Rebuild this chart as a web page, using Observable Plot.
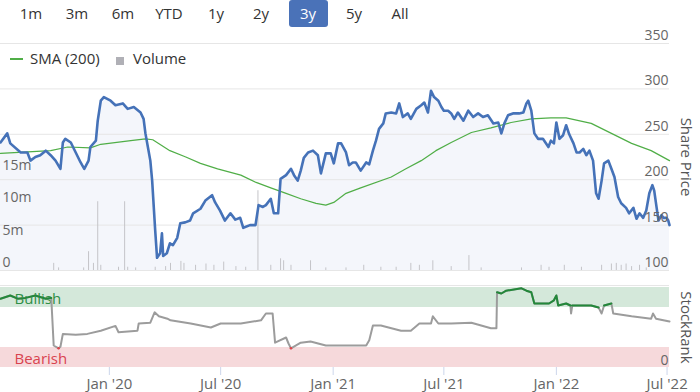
<!DOCTYPE html>
<html><head><meta charset="utf-8">
<script src="https://cdn.jsdelivr.net/npm/d3@7"></script>
<script src="https://cdn.jsdelivr.net/npm/@observablehq/plot@0.6"></script>
<style>
body{margin:0;background:#fff;font-family:"Open Sans",sans-serif;}
#wrap{position:relative;width:700px;height:392px;overflow:hidden;}
#wrap > svg{position:absolute;left:0;top:0;}
.btn{position:absolute;top:0;height:27px;line-height:27px;font-size:15px;color:#333;text-align:center;}
.btn.sel{background:#4a72b8;color:#fff;border-radius:3px;}
.leg{position:absolute;font-size:15px;color:#333;line-height:20px;top:48px;}
</style></head>
<body><div id="wrap"></div>
<script>
// ---------- data ----------
const rangeButtons = ["1m","3m","6m","YTD","1y","2y","3y","5y","All"];
const selectedRange = "3y";
const legendItems = ["SMA (200)", "Volume"];

const priceDates = ["2019-07-07","2019-07-18","2019-07-23","2019-08-09","2019-08-20","2019-08-25","2019-09-02","2019-09-10","2019-09-19","2019-09-27","2019-10-05","2019-10-13","2019-10-17","2019-10-21","2019-10-30","2019-11-07","2019-11-15","2019-11-21","2019-11-28","2019-12-01","2019-12-10","2019-12-13","2019-12-18","2019-12-23","2020-01-03","2020-01-11","2020-01-23","2020-01-31","2020-02-10","2020-02-21","2020-02-26","2020-02-29","2020-03-04","2020-03-08","2020-03-11","2020-03-16","2020-03-19","2020-03-24","2020-03-27","2020-03-29","2020-04-04","2020-04-09","2020-04-14","2020-04-21","2020-04-26","2020-05-04","2020-05-12","2020-05-17","2020-05-29","2020-06-06","2020-06-17","2020-06-22","2020-06-30","2020-07-08","2020-07-17","2020-07-25","2020-08-02","2020-08-07","2020-08-18","2020-08-27","2020-09-01","2020-09-08","2020-09-13","2020-09-21","2020-09-26","2020-10-03","2020-10-07","2020-10-16","2020-10-24","2020-10-29","2020-11-04","2020-11-09","2020-11-14","2020-11-21","2020-11-29","2020-12-07","2020-12-12","2020-12-20","2020-12-28","2021-01-02","2021-01-09","2021-01-14","2021-01-22","2021-01-27","2021-02-02","2021-02-07","2021-02-15","2021-02-24","2021-03-01","2021-03-07","2021-03-12","2021-03-17","2021-03-24","2021-03-28","2021-04-06","2021-04-14","2021-04-19","2021-04-25","2021-05-03","2021-05-08","2021-05-17","2021-05-25","2021-05-30","2021-06-05","2021-06-10","2021-06-15","2021-06-22","2021-06-27","2021-07-01","2021-07-08","2021-07-13","2021-07-18","2021-07-24","2021-08-02","2021-08-10","2021-08-18","2021-08-26","2021-09-03","2021-09-11","2021-09-20","2021-09-28","2021-10-03","2021-10-08","2021-10-14","2021-10-22","2021-11-01","2021-11-08","2021-11-13","2021-11-16","2021-11-21","2021-11-26","2021-12-02","2021-12-10","2021-12-19","2021-12-23","2021-12-28","2022-01-01","2022-01-06","2022-01-12","2022-01-17","2022-01-22","2022-01-29","2022-02-03","2022-02-08","2022-02-14","2022-02-19","2022-02-24","2022-03-02","2022-03-07","2022-03-11","2022-03-16","2022-03-20","2022-03-27","2022-04-01","2022-04-06","2022-04-12","2022-04-17","2022-04-25","2022-04-30","2022-05-07","2022-05-12","2022-05-17","2022-05-23","2022-05-28","2022-06-02","2022-06-07","2022-06-10","2022-06-14","2022-06-17","2022-06-22","2022-06-25","2022-06-30","2022-07-03","2022-07-05"];
const priceValues = [241,251,240,230,230,221,225,227,232,227,221,212,241,245,241,230,219,212,221,236,243,265,287,291,287,282,284,278,280,274,267,251,236,221,199,144,114,119,141,116,119,130,128,136,152,153,155,163,168,177,183,175,166,155,163,156,158,147,150,150,172,170,172,179,163,163,201,205,212,205,199,210,224,230,232,227,207,229,229,218,240,240,230,216,219,219,210,219,217,232,243,256,262,273,274,273,284,269,273,267,278,282,285,274,298,291,287,280,276,276,273,267,274,265,276,269,273,269,271,262,263,251,262,271,273,273,274,284,287,276,251,245,245,236,243,240,263,245,249,260,250,240,230,230,234,227,232,221,185,179,199,218,221,212,203,181,174,169,163,169,157,163,158,166,185,194,188,169,155,161,158,158,155,150];

const smaDates = ["2019-07-07","2019-09-27","2019-10-25","2019-12-01","2019-12-18","2020-02-05","2020-02-29","2020-03-12","2020-04-09","2020-05-05","2020-05-29","2020-06-26","2020-08-03","2020-08-28","2020-09-21","2020-10-16","2020-11-09","2020-12-04","2020-12-20","2021-01-02","2021-01-22","2021-02-15","2021-04-06","2021-04-30","2021-05-25","2021-06-18","2021-07-13","2021-08-15","2021-09-16","2021-10-19","2021-11-21","2021-12-23","2022-01-17","2022-02-27","2022-04-01","2022-05-04","2022-06-05","2022-07-05"];
const smaValues = [229,232,236,235,239,243,245,244,232,225,218,212,205,197,191,185,179,174,172,175,185,191,203,212,221,232,241,252,257,263,267,268,268,262,251,240,232,221];

const volumeDates = ["2019-10-02","2019-10-10","2019-11-20","2019-11-28","2019-12-06","2019-12-13","2019-12-18","2020-01-16","2020-01-26","2020-01-31","2020-02-13","2020-03-16","2020-04-02","2020-04-10","2020-04-27","2020-05-02","2020-05-21","2020-06-07","2020-06-20","2020-07-06","2020-07-26","2020-08-11","2020-08-31","2020-09-21","2020-10-07","2020-10-12","2020-10-24","2020-11-25","2020-12-20","2021-01-22","2021-02-20","2021-03-20","2021-04-14","2021-05-08","2021-05-22","2021-06-13","2021-07-13","2021-08-11","2021-08-31","2021-11-05","2021-12-07","2021-12-20","2022-01-14","2022-02-11","2022-03-16","2022-04-01","2022-04-09","2022-04-17","2022-04-25","2022-05-04","2022-05-17","2022-05-28"];
const volumeValues = [1.1,0.4,0.4,2.9,1.1,10.6,0.8,0.5,10.6,0.5,0.4,0.5,0.6,1.1,1.4,1.1,0.8,1.0,0.8,1.3,0.6,0.5,12.3,0.8,1.8,1.5,0.8,1.5,0.4,0.4,0.8,0.5,0.5,1.1,0.8,1.5,0.6,2.3,0.4,0.4,0.8,0.5,0.8,0.5,0.8,1.0,1.1,0.8,1.0,0.6,0.8,0.4]; // millions

const rankDates = ["2019-07-07","2019-07-23","2019-08-04","2019-08-17","2019-09-02","2019-09-19","2019-09-27","2019-09-28","2019-10-02","2019-10-10","2019-10-13","2019-10-17","2019-11-07","2019-11-26","2019-12-18","2020-01-11","2020-01-16","2020-02-16","2020-02-18","2020-03-08","2020-03-15","2020-03-22","2020-04-05","2020-04-10","2020-05-13","2020-06-15","2020-07-01","2020-08-03","2020-09-05","2020-09-13","2020-09-24","2020-09-28","2020-10-16","2020-10-20","2020-10-24","2020-11-09","2020-11-25","2020-12-20","2021-01-30","2021-02-24","2021-03-01","2021-03-07","2021-03-20","2021-04-22","2021-05-08","2021-05-22","2021-06-10","2021-06-13","2021-06-22","2021-07-13","2021-08-15","2021-09-16","2021-09-25","2021-09-26","2021-10-03","2021-10-11","2021-11-05","2021-11-13","2021-11-21","2021-11-26","2021-12-20","2021-12-28","2022-01-01","2022-01-04","2022-01-17","2022-01-24","2022-01-25","2022-01-27","2022-02-27","2022-03-11","2022-03-16","2022-03-20","2022-04-01","2022-04-04","2022-05-04","2022-06-05","2022-06-08","2022-06-13","2022-07-05"];
const rankValues = [86,90,86,87,90,86,87,87,27.5,24,26,42,41,42,46,52,44,46,55,56,69,64,61,59,55,50,55,55,59,67.5,67.5,31,37.5,30,24,31,32.5,27.5,27.5,27.5,34,52.5,52.5,46,46,55,55,64,55,55,56,49,49,94,92.5,96,99,96,94,80,80,84,90,77.5,80,77.5,67.5,77.5,77.5,75,67.5,77.5,80,67.5,64,61,67.5,61,57.5];

const priceTicks = [100,150,200,250,300,350];
const volumeTicks = [0,5,10,15];
const volumeTickLabels = ["0","5m","10m","15m"];
const rankTicks = [0];
const dateTicks = ["2020-01-01","2020-07-01","2021-01-01","2021-07-01","2022-01-01","2022-07-01"];
const bands = [{name:"Bullish", lo:75, hi:100}, {name:"Bearish", lo:0, hi:25}];
const xStart = "2019-07-07", xEnd = "2022-07-05";

// ---------- build ----------
const P = s => new Date(s + "T00:00:00Z");
const price = priceDates.map((d,i)=>({date:P(d), value:priceValues[i]}));
const sma = smaDates.map((d,i)=>({date:P(d), value:smaValues[i]}));
const volume = volumeDates.map((d,i)=>({date:P(d), value:volumeValues[i]}));
const rank = rankDates.map((d,i)=>({date:P(d), value:rankValues[i]}));
const xDomain = [P(xStart), P(xEnd)];
const FONT = '"Open Sans", sans-serif';
const common = {width:700, height:392, marginLeft:0, marginRight:31,
  style:{background:"transparent", fontFamily:FONT, overflow:"visible"}};
const xs = {type:"utc", domain:xDomain, axis:null};

const wrap = document.getElementById("wrap");

// buttons
const btnCenters = [31,77,123,169,216,261,308,354,400];
rangeButtons.forEach((b,i)=>{
  const el = document.createElement("div");
  el.className = "btn" + (b===selectedRange ? " sel" : "");
  el.textContent = b;
  const w = b===selectedRange ? 39 : 40;
  el.style.left = (btnCenters[i]-w/2) + "px";
  el.style.width = w + "px";
  wrap.appendChild(el);
});
// legend
const l1 = document.createElement("div");
l1.style.cssText = "position:absolute;left:10px;top:58px;width:13px;height:2px;background:#50ae47;";
wrap.appendChild(l1);
const t1 = document.createElement("div"); t1.className="leg"; t1.style.left="30px"; t1.textContent=legendItems[0]; wrap.appendChild(t1);
const s2 = document.createElement("div");
s2.style.cssText = "position:absolute;left:116px;top:57px;width:8px;height:8px;background:#b0b0b6;";
wrap.appendChild(s2);
const t2 = document.createElement("div"); t2.className="leg"; t2.style.left="133px"; t2.textContent=legendItems[1]; wrap.appendChild(t2);

// layer 1: price area + grid
wrap.appendChild(Plot.plot({...common, marginTop:43, marginBottom:122, x:xs, y:{domain:[100,350], axis:null},
  marks:[
    Plot.areaY(price, {x:"date", y1:100, y2:"value", fill:"#f4f6fb"}),
    Plot.ruleY(priceTicks, {stroke:"#e6e6e6", strokeWidth:1})
  ]}));

// layer 2: volume
wrap.appendChild(Plot.plot({...common, marginTop:43, marginBottom:122, x:xs, y:{domain:[0,35], axis:null},
  marks:[
    Plot.ruleX(volume, {x:"date", y1:0, y2:"value", stroke:"#c4c4c8", strokeWidth:1}),
    Plot.text(volumeTicks, {y:d=>d, text:(d,i)=>volumeTickLabels[i], frameAnchor:"left", textAnchor:"start", dx:2, dy:-8, fill:"#666", fontSize:14})
  ]}));

// layer 3: lines + price labels
wrap.appendChild(Plot.plot({...common, marginTop:43, marginBottom:122, x:xs, y:{domain:[100,350], axis:null},
  marks:[
    Plot.line(sma, {x:"date", y:"value", stroke:"#50ae47", strokeWidth:1.2}),
    Plot.line(price, {x:"date", y:"value", stroke:"#4572b8", strokeWidth:2.6, curve:"linear"}),
    Plot.text(priceTicks, {y:d=>d, text:d=>String(d), frameAnchor:"right", textAnchor:"end", dx:-1, dy:-8, fill:"#666", fontSize:14}),
    Plot.text(["Share Price"], {text:d=>d, frameAnchor:"right", textAnchor:"middle", rotate:90, dx:16, fill:"#555", fontSize:15})
  ]}));

// layer 4: StockRank panel
const fmt = d3.utcFormat("%b '%y");
wrap.appendChild(Plot.plot({...common, marginTop:287, marginBottom:25, x:{type:"utc", domain:xDomain}, y:{domain:[0,100], axis:null},
  marks:[
    Plot.rect(bands, {x1:()=>xDomain[0], x2:()=>xDomain[1], y1:"lo", y2:"hi", fill:d=>d.name==="Bullish"?"#d4e8da":"#f6d9db"}),
    Plot.ruleY([100], {stroke:"#e6e6e6", dy:-2}),
    Plot.text(bands, {y:d=>(d.lo+d.hi)/2, text:"name", frameAnchor:"left", textAnchor:"start", dx:14, dy:2, fontSize:15, fill:d=>d.name==="Bullish"?"#2f8f47":"#d9434f"}),
    Plot.line(rank, {x:"date", y:"value", stroke:"#9c9c9c", strokeWidth:2}),
    Plot.line(rank, {x:"date", y:d=>d.value>=75?d.value:NaN, stroke:"#23883a", strokeWidth:2}),
    Plot.dot(rank.filter(d=>d.value<=25), {x:"date", y:"value", r:1.3, fill:"#e0434a", stroke:null}),
    Plot.text(rankTicks, {y:d=>d, text:d=>String(d), frameAnchor:"right", textAnchor:"end", dx:-1, dy:-7, fill:"#666", fontSize:14}),
    Plot.text(["StockRank"], {text:d=>d, frameAnchor:"right", textAnchor:"middle", rotate:90, dx:16, fill:"#555", fontSize:15}),
    Plot.axisX({ticks:dateTicks.map(P), tickFormat:fmt, tickSize:8, tickPadding:3, stroke:"#ccd6eb", fill:"#666", fontSize:15, label:null, fontFamily:FONT})
  ]}));
</script></body></html>
